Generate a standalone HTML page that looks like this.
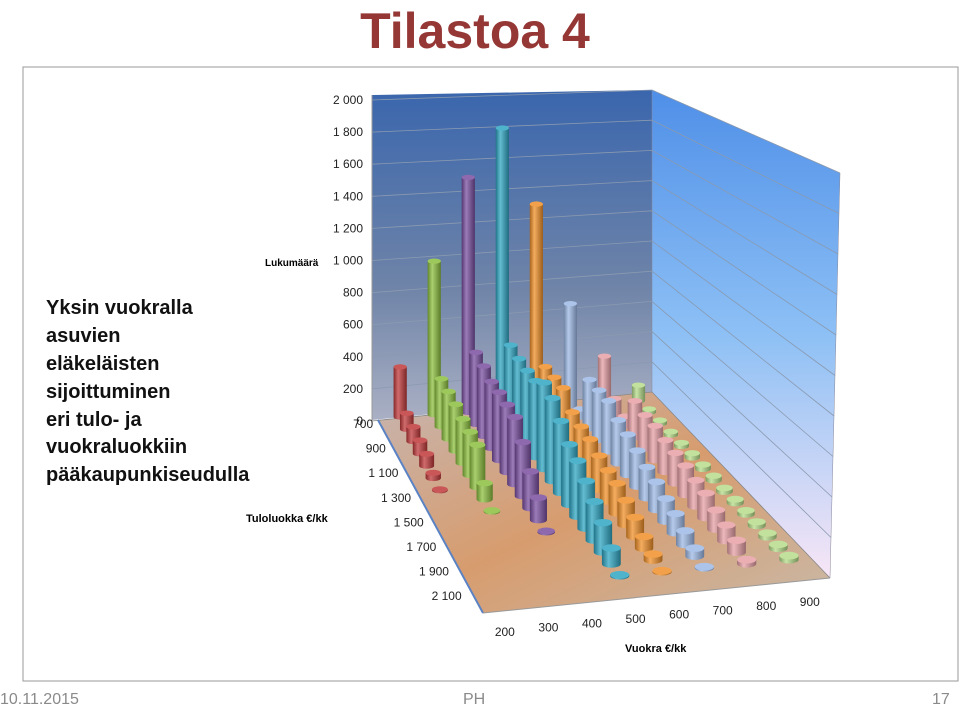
<!DOCTYPE html>
<html><head><meta charset="utf-8"><style>
body{margin:0;background:#fff;width:960px;height:707px;overflow:hidden;font-family:"Liberation Sans",sans-serif;}
</style></head><body>
<svg id="chart" width="960" height="707" viewBox="0 0 960 707" xmlns="http://www.w3.org/2000/svg" font-family="Liberation Sans, sans-serif">
<defs>
<linearGradient id="backG" x1="0" y1="0" x2="0" y2="1"><stop offset="0" stop-color="#3a66ad"/><stop offset="0.6" stop-color="#6f84a8"/><stop offset="1" stop-color="#aab0c4"/></linearGradient>
<linearGradient id="sideG" x1="0" y1="0" x2="0" y2="1"><stop offset="0" stop-color="#4f8fe8"/><stop offset="0.5" stop-color="#8dc0f5"/><stop offset="1" stop-color="#f8e6f6"/></linearGradient>
<linearGradient id="floorG" x1="0" y1="0" x2="1" y2="1"><stop offset="0" stop-color="#c7b5b0"/><stop offset="0.5" stop-color="#d79c6e"/><stop offset="1" stop-color="#c9b9a8"/></linearGradient>
</defs>
<text x="475" y="48" text-anchor="middle" font-size="50" font-weight="bold" fill="#953735">Tilastoa 4</text>
<rect x="23" y="67" width="935" height="614" fill="none" stroke="#999" stroke-width="1"/>
<g font-size="20" font-weight="bold" fill="#111">
<text x="46" y="314">Yksin vuokralla</text><text x="46" y="342">asuvien</text><text x="46" y="370">eläkeläisten</text><text x="46" y="398">sijoittuminen</text><text x="46" y="426">eri tulo- ja</text><text x="46" y="453">vuokraluokkiin</text><text x="46" y="481">pääkaupunkiseudulla</text>
</g>
<polygon points="372,95 652,90 652,392 372,420" fill="url(#backG)"/>
<polygon points="652,90 840,173 830,578 652,392" fill="url(#sideG)" stroke="#889" stroke-width="0.5"/>
<polygon points="378,420 652,392 830,578 483,613" fill="url(#floorG)"/>
<g id="grid"></g>
<g id="axes" font-size="12" fill="#222"></g>
<g id="bars"></g>
<text x="265" y="266" font-size="10" font-weight="bold">Lukumäärä</text>
<text x="246" y="522" font-size="11" font-weight="bold">Tuloluokka €/kk</text>
<text x="625" y="652" font-size="11" font-weight="bold">Vuokra €/kk</text>
<g font-size="16" fill="#8a8a8a">
<text x="0" y="704">10.11.2015</text><text x="463" y="704">PH</text><text x="932" y="704">17</text>
</g>
</svg>
<script>
const vuokra = [200,300,400,500,600,700,800,900];
const tulo = [700,800,900,1000,1100,1200,1300,1400,1500,1600,1700,1800,1900,2000,2100];
const zTicks = [0,200,400,600,800,1000,1200,1400,1600,1800,2000];
const s200 = [320,100,90,80,70,30,5,null,null,null,null,null,null,null,null];
const s300 = [980,300,290,280,260,250,240,90,5,null,null,null,null,null,null];
const s400 = [1500,450,430,400,400,390,380,300,200,120,5,null,null,null,null];
const s500 = [1800,480,460,450,450,500,470,400,330,300,250,200,150,80,5];
const s600 = [1300,330,330,330,250,230,220,190,170,160,130,100,60,30,5];
const s700 = [650,50,300,300,300,250,230,200,170,150,120,100,70,40,5];
const s800 = [300,100,60,220,200,200,180,170,160,140,130,100,80,60,20];
const s900 = [100,20,20,20,20,25,25,25,20,20,20,20,20,20,20];
const series = [s200,s300,s400,s500,s600,s700,s800,s900];
const colors = ['#c0393b','#8cbf3f','#7a4fa0','#2fa5c2','#f0902a','#9db9e6','#e7a0a6','#b6dc8a'];
const NS='http://www.w3.org/2000/svg';
function mk(t,a,p){const e=document.createElementNS(NS,t);for(const k in a)e.setAttribute(k,a[k]);p.appendChild(e);return e;}
const BL=[380,412],BR=[650,394],FR=[830,578],FL=[483,612];
function floorPt(u,v){const bx=BL[0]+(BR[0]-BL[0])*u,by=BL[1]+(BR[1]-BL[1])*u;const fx=FL[0]+(FR[0]-FL[0])*u,fy=FL[1]+(FR[1]-FL[1])*u;return [bx+(fx-bx)*v,by+(fy-by)*v];}
function xU(i){return (i+0.5)/vuokra.length;}
function yV(j){return (j+0.5)/(tulo.length+1.3);}
function hScale(v){return 0.155*(1+0.35*v);}
function zLeft(val){return 421-0.1605*val;}
function zRight(val){return 392-0.151*val;}
function zSide(val){return 578-0.2025*val;}
function xSide(val){return 830+10*val/2000;}
const grid=document.getElementById('grid'),axes=document.getElementById('axes'),bars=document.getElementById('bars');
zTicks.forEach(t=>{
  const l=mk('polyline',{points:`372,${zLeft(t)} 652,${zRight(t)} ${xSide(t)},${zSide(t)}`,fill:'none',stroke:t===0?'#888':'#8a9ab0',"stroke-width":0.8},grid);
  
  
  const tx=mk('text',{x:363,y:zLeft(t)+4,'text-anchor':'end'},axes);
  tx.textContent=t>=1000?(Math.floor(t/1000)+' '+String(t%1000).padStart(3,'0')):String(t);
  
  
});
mk('line',{x1:372,y1:95,x2:372,y2:421,stroke:'#999'},axes);
mk('line',{x1:378,y1:420,x2:483,y2:613,stroke:'#5b83c4','stroke-width':2},axes);
mk('line',{x1:483,y1:613,x2:830,y2:578,stroke:'#999'},axes);
tulo.forEach((t,j)=>{ if(j%2) return;
  const p=floorPt(0,yV(j));
  const tx=mk('text',{x:p[0]-10,y:p[1]+10,'text-anchor':'end'},axes);
  tx.textContent=t>=1000?(Math.floor(t/1000)+' '+String(t%1000).padStart(3,'0')):String(t);
  
  
});
vuokra.forEach((c,i)=>{
  const p=floorPt(xU(i),1.02);
  const tx=mk('text',{x:p[0]-2,y:p[1]+22,'text-anchor':'middle'},axes);
  tx.textContent=String(c);
  
  
});
function shade(hex,f){const n=parseInt(hex.slice(1),16);let r=n>>16,g=(n>>8)&255,b=n&255;const m=c=>Math.max(0,Math.min(255,Math.round(f<1?c*f:c+(255-c)*(f-1))));return `rgb(${m(r)},${m(g)},${m(b)})`;}
const defs=document.querySelector('defs');
colors.forEach((c,i)=>{const g=mk('linearGradient',{id:'cg'+i,x1:0,y1:0,x2:1,y2:0},defs);
  mk('stop',{offset:0,'stop-color':shade(c,0.7)},g);mk('stop',{offset:0.35,'stop-color':shade(c,1.25)},g);mk('stop',{offset:1,'stop-color':shade(c,0.65)},g);});
for(let j=0;j<tulo.length;j++){
  for(let i=0;i<vuokra.length;i++){
    const val=series[i][j]; if(val==null) continue;
    const v=yV(j),p=floorPt(xU(i),v);
    const r=6.5+3.5*v, ry=r*0.4, h=val*hScale(v);
    const g=mk('g',{},bars);
    
    
    mk('path',{d:`M${p[0]-r},${p[1]-h} L${p[0]-r},${p[1]} A${r},${ry} 0 0 0 ${p[0]+r},${p[1]} L${p[0]+r},${p[1]-h} Z`,fill:`url(#cg${i})`},g);
    mk('ellipse',{cx:p[0],cy:p[1]-h,rx:r,ry:ry,fill:shade(colors[i],1.15)},g);
  }
}
</script>
</body></html>
